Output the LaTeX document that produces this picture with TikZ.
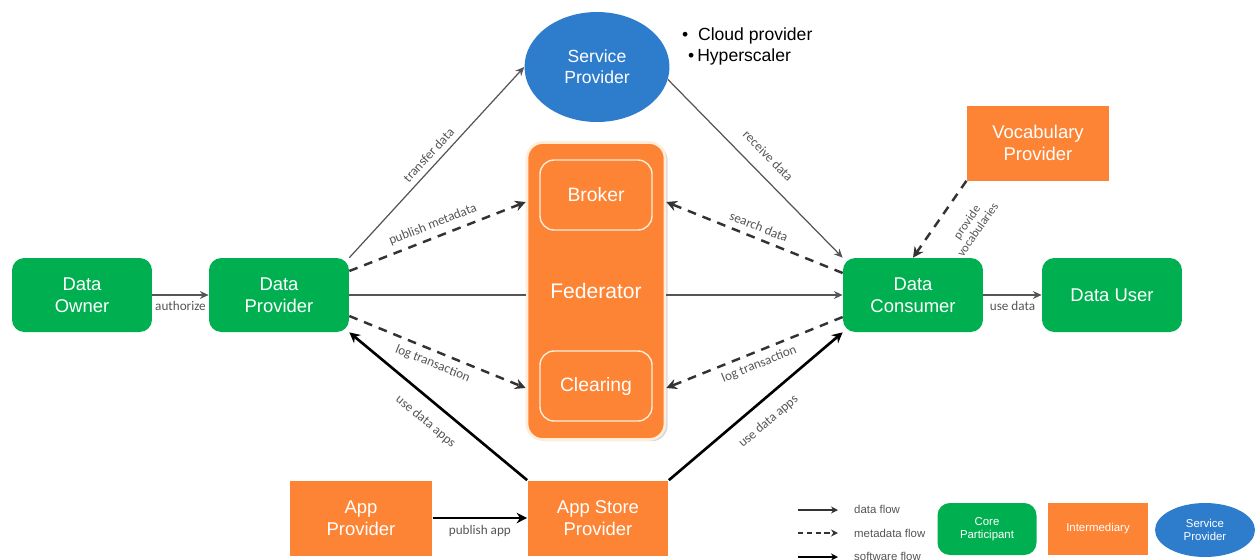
\documentclass[tikz,border=0pt]{standalone}
\usepackage{fontspec}
\setmainfont{Liberation Sans}
\newfontfamily\lblfont{Carlito}
\usetikzlibrary{arrows.meta,calc,shapes.geometric,shadows}
\definecolor{coregreen}{RGB}{0,176,80}
\definecolor{interorange}{RGB}{252,132,52}
\definecolor{spblue}{RGB}{46,125,205}
\definecolor{flowgray}{RGB}{85,85,85}

\begin{document}
\begin{tikzpicture}[x=0.02cm, y=-0.02cm,
    core/.style={rectangle, rounded corners=7pt, fill=coregreen, text=white, minimum width=2.8cm, minimum height=1.48cm, align=center, font=\fontsize{10.5}{12.5}\selectfont},
    inter/.style={rectangle, fill=interorange, text=white, minimum width=2.85cm, minimum height=1.5cm, align=center, font=\fontsize{10.5}{12.5}\selectfont},
    inner/.style={rectangle, rounded corners=8pt, draw=orange!15, line width=0.8pt, text=white, minimum width=2.24cm, minimum height=1.4cm, font=\fontsize{11}{13}\selectfont},
    spnode/.style={ellipse, fill=spblue, text=white, align=center, font=\fontsize{10}{12}\selectfont},
    lbl/.style={font=\lblfont\fontsize{7.5}{8.5}\selectfont, text=flowgray, align=center},
    dataflow/.style={draw=flowgray, line width=0.7pt, -{Stealth[length=5pt, width=4.5pt]}},
    metaflow/.style={draw=black!80, line width=1.4pt, dash pattern=on 5pt off 4pt, -{Stealth[length=6pt, width=6pt]}},
    softflow/.style={draw=black, line width=1.5pt, -{Stealth[length=6pt, width=6pt]}}]

    \useasboundingbox (0,0) rectangle (1258,559);

    % participants
    \node[core] (owner) at (82,295) {Data\\Owner};
    \node[core] (prov) at (279,295) {Data\\Provider};
    \node[core] (cons) at (913,295) {Data\\Consumer};
    \node[core] (user) at (1112,295) {Data User};

    \node[spnode, minimum width=2.9cm, minimum height=2.2cm] (sp) at (597,67) {Service\\Provider};
    \node[anchor=west, font=\fontsize{10}{12}\selectfont] (cloud) at (676,36) {\textbullet\ \ Cloud provider};
    \node[anchor=west, font=\fontsize{10}{12}\selectfont] (hyper) at (682,57) {\textbullet\,Hyperscaler};

    \node[rectangle, rounded corners=9pt, fill=interorange, draw=orange!15, line width=1.5pt, text=white,
          minimum width=2.76cm, minimum height=5.94cm, font=\fontsize{12}{14}\selectfont,
          drop shadow={shadow xshift=1.5pt, shadow yshift=-1pt, opacity=0.3}] (fed) at (596,291) {Federator};
    \node[inner] (broker) at (596,195) {Broker};
    \node[inner] (clearing) at (596,386) {Clearing};

    \node[inter] (vocab) at (1038,143) {Vocabulary\\Provider};
    \node[inter] (appprov) at (361,518) {App\\Provider};
    \node[inter, minimum width=2.82cm] (appstore) at (598,518) {App Store\\Provider};

    % flows
    \draw[dataflow] (owner) -- node[below, lbl] {authorize} (prov);
    \draw[dataflow] (prov.north east) -- node[sloped, above, lbl] {transfer data} (sp.west);
    \draw[metaflow] ($(prov.east)+(0,-24)$) -- node[sloped, above, lbl] {publish metadata} ($(fed.west)+(0,-89)$);
    \draw[draw=flowgray, line width=0.7pt] (prov.east) -- (prov.east -| fed.west);
    \draw[dataflow] (cons.west -| fed.east) -- (cons.west);
    \draw[metaflow] ($(prov.east)+(0,21)$) -- node[sloped, below, lbl] {log transaction} ($(fed.west)+(0,97)$);
    \draw[softflow] (appstore.north west) -- node[sloped, below=4pt, lbl] {use data apps} (prov.south east);
    \draw[softflow] (appstore.north east) -- node[sloped, below=4pt, lbl] {use data apps} (cons.south west);
    \draw[softflow] (appprov) -- node[below, lbl] {publish app} (appstore);
    \draw[dataflow] (sp.-10) -- node[sloped, above=4pt, lbl] {receive data} (cons.north west);
    \draw[metaflow] ($(cons.west)+(0,-22)$) -- node[sloped, above, lbl] {search data} ($(fed.east)+(0,-89)$);
    \draw[metaflow] ($(cons.west)+(0,22)$) -- node[sloped, below, lbl] {log transaction} ($(fed.east)+(0,97)$);
    \draw[metaflow] (vocab.south west) -- node[pos=0.36, sloped, below=7pt, lbl, font=\lblfont\fontsize{7}{7.5}\selectfont] {provide\\vocabularies} (cons.north);
    \draw[dataflow] (cons) -- node[below, lbl] {use data} (user);

    % legend
    \coordinate (d1) at (798,510);
    \coordinate (d2) at (838,510);
    \coordinate (m1) at (798,533);
    \coordinate (m2) at (838,533);
    \coordinate (s1) at (798,557);
    \coordinate (s2) at (838,557);
    \draw[draw=black!80, line width=0.6pt, -{Stealth[length=4pt, width=4pt]}] (d1) -- (d2);
    \draw[draw=black!80, line width=0.8pt, dash pattern=on 3pt off 2pt, -{Stealth[length=4pt, width=4pt]}] (m1) -- (m2);
    \draw[draw=black, line width=1.3pt, -{Stealth[length=4pt, width=4pt]}] (s1) -- (s2);
    \node[anchor=west, lbl, font=\fontsize{6.5}{7.5}\selectfont] (ldata) at (848,509) {data flow};
    \node[anchor=west, lbl, font=\fontsize{6.5}{7.5}\selectfont] (lmeta) at (848,533) {metadata flow};
    \node[anchor=west, lbl, font=\fontsize{6.5}{7.5}\selectfont] (lsoft) at (848,556) {software flow};
    \node[core, minimum width=1.98cm, minimum height=1.04cm, font=\fontsize{6.5}{7.5}\selectfont] (lgcore) at (987,529) {Core\\Participant};
    \node[inter, minimum width=2.0cm, minimum height=1.04cm, font=\fontsize{6.5}{7.5}\selectfont] (lginter) at (1098,529) {Intermediary};
    \node[spnode, minimum width=2.0cm, minimum height=1.08cm, font=\fontsize{6.5}{7.5}\selectfont] (lgsp) at (1205,530) {Service\\Provider};
\end{tikzpicture}
\end{document}
